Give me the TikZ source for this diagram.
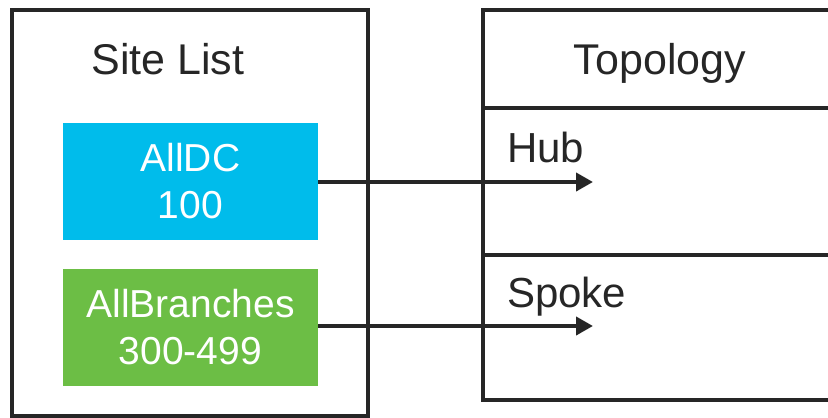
\documentclass[tikz,border=0pt]{standalone}
\usepackage{fontspec}
\setmainfont{Liberation Sans}
\usetikzlibrary{arrows.meta}
\definecolor{dcblue}{HTML}{00BCEB}
\definecolor{brgreen}{HTML}{6CBE45}
\definecolor{ink}{HTML}{262626}
\tikzset{
  frame/.style={draw=ink, line width=4pt},
  sitebox/.style={minimum width=255pt, minimum height=117pt, inner sep=0pt,
    text=white, align=center, font=\fontsize{39}{47}\selectfont},
  headtxt/.style={inner sep=0pt, text=ink, font=\fontsize{43}{50}\selectfont},
  rowtxt/.style={inner sep=0pt, text=ink, anchor=base west, font=\fontsize{42}{50}\selectfont},
  link/.style={draw=ink, line width=4pt, -{Triangle[length=17pt,width=18pt]}}
}
\newcommand{\toprow}[1]{ \draw[frame] (483,#1) -- (840,#1);}

\begin{document}
\begin{tikzpicture}[x=1pt,y=-1pt]
        \useasboundingbox (0,0) rectangle (828,418);
        \clip (0,0) rectangle (828,418);

        % site list
        \draw[frame] (12,10) rectangle (368,416);
        \node[headtxt, anchor=base] (sitelist) at (168,74) {Site List};
        \node[sitebox, fill=dcblue] (dc) at (190.5,181.5) {AllDC\\100};
        \node[sitebox, fill=brgreen] (br) at (190.5,327.5) {AllBranches\\300-499};

        % topology
        \draw[frame] (840,10) -- (483,10) -- (483,400) -- (840,400);
        \toprow{108}
        \toprow{255}
        \node[headtxt, anchor=base] (topo) at (660,74) {Topology};
        \node[rowtxt] (hub) at (507,162) {Hub};
        \node[rowtxt] (spoke) at (507,307) {Spoke};

        % links
        \coordinate (hubend) at (593,182);
        \coordinate (spokeend) at (593,326);
        \draw[link] (dc.east |- hubend) -- (hubend);
        \draw[link] (br.east |- spokeend) -- (spokeend);
    \end{tikzpicture}
\end{document}
